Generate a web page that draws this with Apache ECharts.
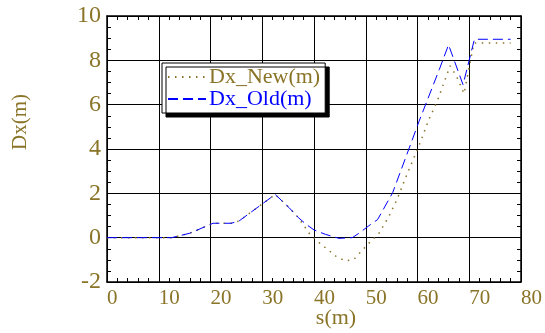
<!DOCTYPE html>
<html>
<head>
<meta charset="utf-8">
<script src="https://cdn.jsdelivr.net/npm/echarts@6/dist/echarts.min.js"></script>
<style>
  html, body {margin: 0; padding: 0; background: #fff;}
  #chart {width: 545px; height: 333px;}
</style>
</head>
<body>
<div id="chart"></div>
<script>
const sOld  = [0, 10, 12.5, 16, 19, 20.5, 24, 25.5, 29, 32.5, 35.2, 37, 38.5, 40, 42.2, 44.8, 47.4, 48.7, 50.5, 52.3, 55.2, 58.3, 60.3, 64.2, 66, 68.8, 71, 78]
const dxOld = [0, 0, 0, 0.2, 0.5, 0.65, 0.65, 0.75, 1.35, 1.95, 1.35, 0.9, 0.6, 0.35, 0.15, -0.03, 0, 0.2, 0.52, 0.82, 2.03, 3.98, 5.25, 7.58, 8.7, 6.9, 8.95, 8.95]
const sNew  = [0, 10, 12.5, 16, 19, 20.5, 24, 25.5, 29, 32.5, 35.2, 37, 39.2, 40.6, 44.2, 46, 47.7, 49.3, 50.9, 52.5, 54.5, 56.1, 58.1, 60.3, 62.2, 63.8, 65.1, 66.3, 67.5, 69, 70.9, 78]
const dxNew = [0, 0, 0, 0.2, 0.5, 0.65, 0.65, 0.75, 1.35, 1.95, 1.35, 0.9, 0.15, -0.15, -0.83, -1.05, -0.98, -0.57, -0.18, 0.18, 0.97, 1.76, 2.93, 4.16, 5.33, 6.15, 6.98, 7.75, 7.3, 6.5, 8.78, 8.78]
const names = ['Dx_New(m)', 'Dx_Old(m)']

const olive = '#8a7428'
const blue = '#0000ff'
const font = '"Liberation Serif", "DejaVu Serif", serif'

const pairs = (xs, ys) => xs.map((x, i) => [x, ys[i]])

const chart = echarts.init(document.getElementById('chart'))

const xBase = {
  type: 'value', min: 0, max: 80, interval: 10,
  axisLine: {show: true, onZero: false, lineStyle: {color: '#000', width: 1.5}},
  axisTick: {show: true, inside: true, length: 4, lineStyle: {color: '#000'}},
  minorTick: {show: true, splitNumber: 5, length: 4, lineStyle: {color: '#000'}},
  splitLine: {show: false}
}
const yBase = {
  type: 'value', min: -2, max: 10, interval: 2,
  axisLine: {show: true, onZero: false, lineStyle: {color: '#000', width: 1.5}},
  axisTick: {show: true, inside: true, length: 4, lineStyle: {color: '#000'}},
  minorTick: {show: true, splitNumber: 4, length: 4, lineStyle: {color: '#000'}},
  splitLine: {show: false}
}

chart.setOption({
  animation: false,
  backgroundColor: '#fff',
  grid: {left: 107, right: 22, top: 16, bottom: 51},
  xAxis: [
    {...xBase, position: 'bottom',
      splitLine: {show: true, lineStyle: {color: '#000', width: 1}},
      axisLabel: {color: olive, fontFamily: font, fontSize: 21, align: 'left', margin: 6}},
    {...xBase, position: 'top', axisLabel: {show: false}}
  ],
  yAxis: [
    {...yBase, position: 'left',
      splitLine: {show: true, lineStyle: {color: '#000', width: 1}},
      axisLabel: {color: olive, fontFamily: font, fontSize: 24, margin: 6}},
    {...yBase, position: 'right', axisLabel: {show: false}}
  ],
  legend: {
    orient: 'vertical',
    left: 162, top: 63,
    padding: [3, 5, 3, 5],
    itemWidth: 38, itemHeight: 14, itemGap: 0,
    selectedMode: false,
    backgroundColor: '#fff',
    borderColor: '#000', borderWidth: 1,
    shadowColor: '#000', shadowOffsetX: 4, shadowOffsetY: 4, shadowBlur: 0,
    itemStyle: {opacity: 0},
    textStyle: {fontFamily: font, fontSize: 22, lineHeight: 22, padding: [0, 0, 0, -2]},
    data: [
      {name: names[0], textStyle: {color: olive}},
      {name: names[1], textStyle: {color: blue}}
    ]
  },
  graphic: [
    {type: 'text', x: 20, y: 122, rotation: Math.PI / 2,
      style: {text: 'Dx(m)', fill: olive, font: '21px ' + font, align: 'center', verticalAlign: 'middle'}},
    {type: 'text', x: 336, y: 318,
      style: {text: 's(m)', fill: olive, font: '22px ' + font, align: 'center', verticalAlign: 'middle'}}
  ],
  series: [
    {name: names[0], data: pairs(sNew, dxNew), color: olive,
      lineStyle: {color: olive, width: 1.5, type: [1.5, 5.5]}},
    {name: names[1], data: pairs(sOld, dxOld), color: blue,
      lineStyle: {color: blue, width: 1, type: [10, 5]}}
  ].map((obj) => ({
    ...obj,
    type: 'line',
    symbol: 'none',
    z: 3
  }))
})
</script>
</body>
</html>
